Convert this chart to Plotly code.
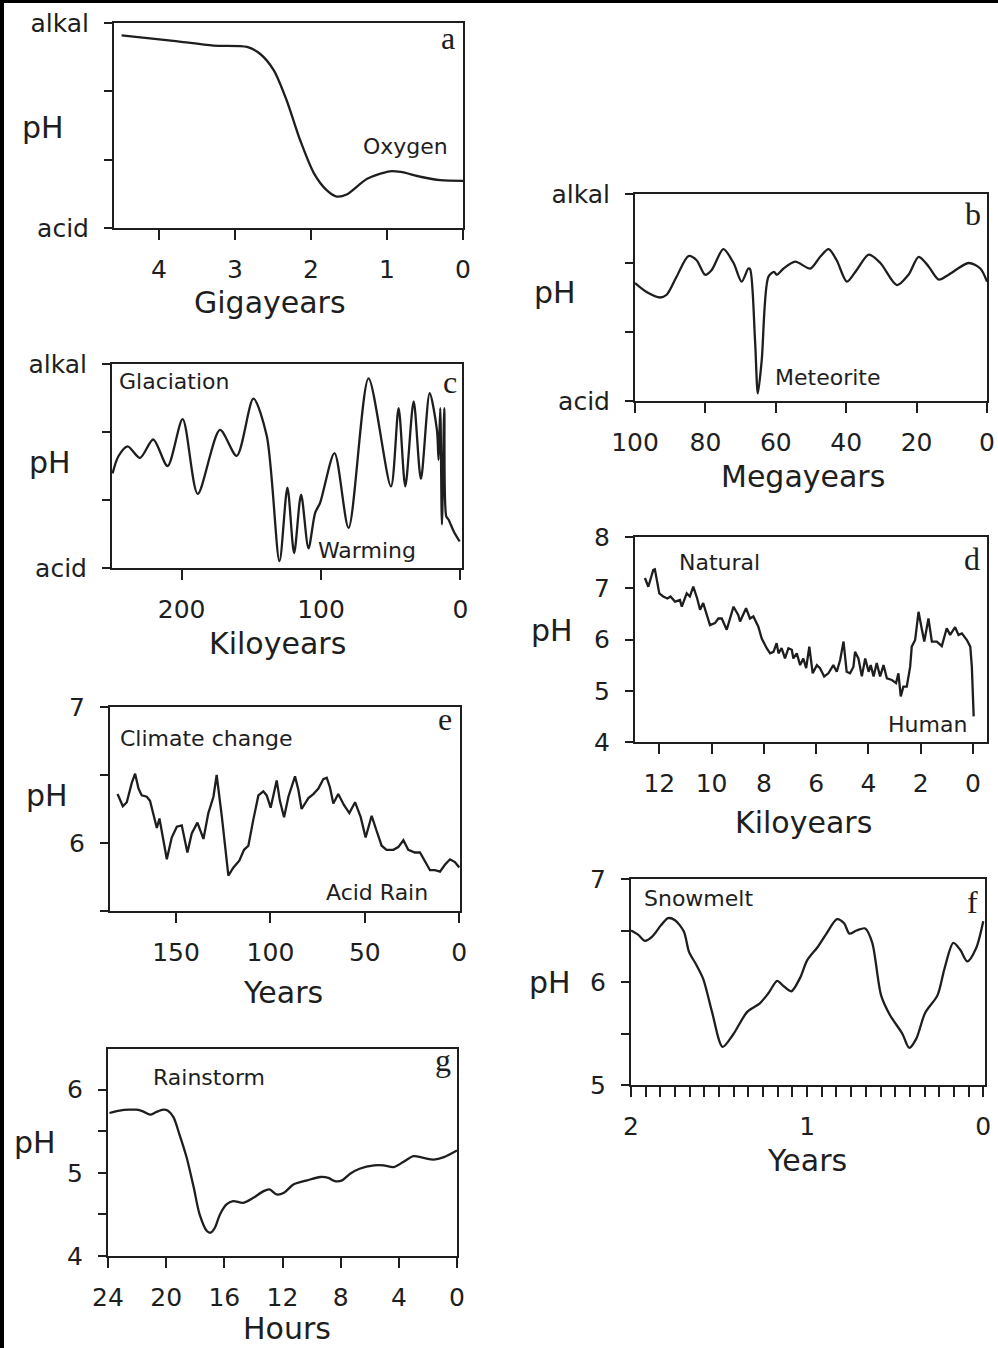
import plotly.graph_objects as go

# ---------------- data ----------------
# a: Gigayears vs relative pH (0 = acid, 3 = alkal)
a_x = [4.49, 3.81, 3.28, 2.84, 2.67, 2.49, 2.32, 2.14, 1.96, 1.79, 1.66, 1.53, 1.26, 0.96, 0.82, 0.56, 0.30, 0.0]
a_y = [2.82, 2.74, 2.67, 2.65, 2.55, 2.31, 1.87, 1.28, 0.80, 0.55, 0.46, 0.49, 0.72, 0.83, 0.82, 0.75, 0.70, 0.69]

# b: Megayears
b_x = [100, 96.7, 92.9, 91.0, 88.2, 84.8, 82.5, 80.1, 78.2, 74.9, 72.0, 69.7, 67.8, 67.3, 65.9, 65.1, 64.0,
       62.1, 60.5, 59.7, 57.8, 54.5, 50.2, 47.4, 45.0, 42.7, 39.8, 37.0, 33.6, 30.3, 25.6, 22.3, 19.4,
       16.6, 13.7, 10.9, 5.2, 1.9, 0.0]
b_y = [1.71, 1.58, 1.50, 1.54, 1.80, 2.10, 2.04, 1.83, 1.90, 2.20, 2.00, 1.73, 1.92, 1.91, 0.88, 0.11, 0.59,
       1.80, 1.87, 1.83, 1.92, 2.02, 1.92, 2.09, 2.20, 2.04, 1.73, 1.90, 2.12, 2.00, 1.68, 1.83, 2.09,
       1.95, 1.76, 1.83, 2.00, 1.92, 1.73]

# c: Kiloyears
c_x = [249.6, 245.5, 238.8, 229.9, 220.4, 210.1, 199.3, 188.5, 172.5, 160.5, 148.5, 138.9, 129.8, 124.1,
       119.3, 114.3, 109.0, 104.2, 100.6, 90.3, 80.2, 65.9, 49.8, 44.3, 39.5, 33.5, 28.3, 22.0, 16.8,
       15.6, 14.4, 13.2, 11.5, 10.1, 8.4, 4.8, 0.5]
c_y = [1.39, 1.64, 1.79, 1.62, 1.89, 1.50, 2.19, 1.09, 2.03, 1.65, 2.49, 1.94, 0.10, 1.18,
       0.22, 1.08, 0.29, 0.81, 0.96, 1.69, 0.59, 2.79, 1.20, 2.35, 1.20, 2.45, 1.31, 2.57, 2.03,
       1.59, 2.35, 0.64, 2.35, 0.76, 0.71, 0.54, 0.39]

# d: Kiloyears vs pH
d_x = [12.55, 12.42, 12.23, 12.17, 12.0, 11.85, 11.69, 11.57, 11.40, 11.21, 11.14, 10.95, 10.83, 10.70,
       10.55, 10.44, 10.32, 10.06, 9.87, 9.74, 9.61, 9.42, 9.16, 8.98, 8.91, 8.68, 8.53, 8.40, 8.21,
       8.08, 7.89, 7.76, 7.63, 7.51, 7.44, 7.32, 7.19, 7.06, 6.93, 6.87, 6.74, 6.61, 6.49, 6.38, 6.26,
       6.13, 5.97, 5.85, 5.69, 5.53, 5.34, 5.21, 5.08, 4.95, 4.83, 4.70, 4.57, 4.51, 4.38, 4.25, 4.12,
       3.99, 3.91, 3.80, 3.68, 3.55, 3.42, 3.29, 3.10, 2.94, 2.85, 2.76, 2.66, 2.53, 2.40, 2.34, 2.21,
       2.08, 1.95, 1.86, 1.70, 1.57, 1.38, 1.19, 1.00, 0.87, 0.68, 0.55, 0.42, 0.23, 0.10, 0.04, -0.03]
d_y = [7.20, 7.03, 7.36, 7.37, 6.90, 6.84, 6.80, 6.84, 6.74, 6.77, 6.64, 6.90, 6.84, 7.03,
       6.80, 6.58, 6.71, 6.28, 6.32, 6.41, 6.41, 6.19, 6.64, 6.48, 6.35, 6.61, 6.41, 6.45, 6.25,
       6.02, 5.83, 5.73, 5.76, 5.93, 5.73, 5.83, 5.63, 5.83, 5.80, 5.63, 5.73, 5.50, 5.63, 5.44, 5.86,
       5.34, 5.50, 5.44, 5.28, 5.34, 5.50, 5.37, 5.60, 5.96, 5.37, 5.34, 5.47, 5.76, 5.63, 5.28, 5.63,
       5.37, 5.50, 5.28, 5.54, 5.28, 5.50, 5.24, 5.21, 5.15, 5.34, 4.89, 5.08, 5.08, 5.47, 5.86, 5.99,
       6.54, 6.19, 5.96, 6.41, 5.96, 5.96, 5.87, 6.22, 6.09, 6.24, 6.09, 6.12, 5.99, 5.86, 5.47, 4.50]

# e: Years vs pH
e_x = [181.0, 178.2, 176.1, 173.5, 171.7, 169.9, 168.2, 165.5, 163.8, 162.0, 160.2, 158.8, 156.7, 154.9,
       152.3, 149.6, 147.0, 144.0, 141.7, 138.7, 135.5, 132.9, 130.2, 128.5, 125.8, 122.3, 119.6, 116.5,
       114.0, 111.7, 109.1, 106.4, 103.8, 102.0, 99.9, 98.5, 96.7, 95.0, 92.8, 90.5, 87.0, 85.2, 83.5,
       79.9, 77.3, 74.6, 72.0, 70.2, 68.5, 66.7, 64.1, 61.1, 58.2, 55.2, 52.2, 49.6, 46.4, 43.8, 41.1,
       38.5, 34.9, 32.3, 29.6, 27.0, 23.5, 20.8, 18.2, 15.5, 12.9, 10.2, 7.6, 4.9, 2.3, 0.0]
e_y = [6.36, 6.27, 6.30, 6.44, 6.51, 6.40, 6.35, 6.34, 6.31, 6.20, 6.11, 6.18, 6.02, 5.88,
       6.04, 6.12, 6.13, 5.93, 6.07, 6.15, 6.03, 6.22, 6.34, 6.50, 6.20, 5.76, 5.82, 5.87,
       5.95, 5.98, 6.17, 6.35, 6.38, 6.35, 6.26, 6.34, 6.46, 6.31, 6.19, 6.34, 6.49, 6.39, 6.25,
       6.33, 6.36, 6.40, 6.47, 6.48, 6.41, 6.29, 6.36, 6.28, 6.22, 6.30, 6.19, 6.04, 6.20, 6.09, 5.98,
       5.95, 5.95, 5.97, 6.02, 5.95, 5.93, 5.93, 5.87, 5.80, 5.80, 5.79, 5.84, 5.88, 5.86, 5.82]

# f: Years vs pH
f_x = [2.0, 1.96, 1.92, 1.88, 1.83, 1.79, 1.75, 1.70, 1.67, 1.63, 1.59, 1.54, 1.48, 1.42, 1.34, 1.27,
       1.22, 1.17, 1.14, 1.09, 1.04, 1.00, 0.94, 0.89, 0.83, 0.79, 0.76, 0.72, 0.67, 0.63, 0.58, 0.53,
       0.46, 0.42, 0.38, 0.33, 0.26, 0.22, 0.17, 0.13, 0.09, 0.04, 0.0]
f_y = [6.50, 6.46, 6.40, 6.44, 6.55, 6.62, 6.60, 6.49, 6.29, 6.17, 6.03, 5.71, 5.37, 5.49, 5.71, 5.79,
       5.89, 6.01, 5.97, 5.91, 6.04, 6.21, 6.34, 6.47, 6.61, 6.57, 6.47, 6.50, 6.52, 6.38, 5.87, 5.68,
       5.50, 5.36, 5.45, 5.70, 5.87, 6.13, 6.38, 6.31, 6.20, 6.33, 6.59]

# g: Hours vs pH
g_x = [23.9, 23.2, 22.5, 22.05, 21.6, 21.1, 20.7, 20.2, 19.9, 19.5, 19.1, 18.6, 18.1, 17.7, 17.2, 16.95,
       16.65, 16.3, 15.85, 15.4, 14.7, 14.0, 13.3, 12.9, 12.4, 11.9, 11.25, 10.3, 9.4, 8.85, 8.4, 7.9,
       7.35, 6.7, 5.7, 5.05, 4.35, 3.7, 3.0, 2.3, 1.6, 0.9, 0.0]
g_y = [5.72, 5.75, 5.76, 5.76, 5.74, 5.70, 5.73, 5.76, 5.75, 5.67, 5.47, 5.19, 4.82, 4.50, 4.30, 4.28,
       4.34, 4.50, 4.62, 4.66, 4.64, 4.70, 4.78, 4.80, 4.74, 4.76, 4.86, 4.91, 4.95, 4.94, 4.90, 4.91,
       4.99, 5.05, 5.09, 5.09, 5.07, 5.13, 5.20, 5.18, 5.16, 5.19, 5.27]

# tick labels
rel_ticks = [0, 1, 2, 3]
rel_labels = ["acid", "", "", "alkal"]
a_xticks = [4, 3, 2, 1, 0]
b_xticks = [100, 80, 60, 40, 20, 0]
c_xticks = [200, 100, 0]
d_xticks = [12, 10, 8, 6, 4, 2, 0]
d_yticks = [4, 5, 6, 7, 8]
e_xticks = [150, 100, 50, 0]
e_yticks = [5.5, 6, 6.5, 7]
e_ylabels = ["", "6", "", "7"]
f_xticks = [i / 12 for i in range(25)]
f_xlabels = ["0" if i == 0 else ("1" if i == 12 else ("2" if i == 24 else "")) for i in range(25)]
f_yticks = [5, 5.5, 6, 6.5, 7]
f_ylabels = ["5", "", "6", "", "7"]
g_xticks = [24, 20, 16, 12, 8, 4, 0]
g_yticks = [4, 4.5, 5, 5.5, 6]
g_ylabels = ["4", "", "5", "", "6"]

# ---------------- layout helpers ----------------
W, H = 998, 1348
INK = "#1e1e1e"
SANS = "DejaVu Sans"
SERIF = "Liberation Serif"


def px(x):
    return x / W


def py(y):
    return 1 - y / H


panels = [
    dict(x=a_x, y=a_y, box=(114, 23, 463, 228), xr=[4.59, 0], yr=[0, 3], xt=a_xticks, xl=None,
         yt=rel_ticks, yl=rel_labels, shape="spline",
         letter=("a", 448, 38), xtitle=("Gigayears", 270, 302), ph=(43, 128),
         notes=[("Oxygen", 405, 147)]),
    dict(x=b_x, y=b_y, box=(635, 194, 987, 401), xr=[100, 0], yr=[0, 3], xt=b_xticks, xl=None,
         yt=rel_ticks, yl=rel_labels, shape="spline",
         letter=("b", 973, 214), xtitle=("Megayears", 803, 477), ph=(555, 292),
         notes=[("Meteorite", 827, 377)]),
    dict(x=c_x, y=c_y, box=(112, 364, 462, 568), xr=[250, -1.2], yr=[0, 3], xt=c_xticks, xl=None,
         yt=rel_ticks, yl=rel_labels, shape="spline",
         letter=("c", 450, 382), xtitle=("Kiloyears", 277, 643), ph=(50, 462),
         notes=[("Glaciation", 174, 382), ("Warming", 367, 550)]),
    dict(x=d_x, y=d_y, box=(635, 537, 987, 742), xr=[12.93, -0.54], yr=[4, 8], xt=d_xticks, xl=None,
         yt=d_yticks, yl=None, shape="linear",
         letter=("d", 972, 559), xtitle=("Kiloyears", 803, 822), ph=(552, 630),
         notes=[("Natural", 719, 562), ("Human", 927, 725)]),
    dict(x=e_x, y=e_y, box=(110, 707, 460, 911), xr=[185, -0.4], yr=[5.5, 7], xt=e_xticks, xl=None,
         yt=e_yticks, yl=e_ylabels, shape="linear",
         letter=("e", 445, 719), xtitle=("Years", 283, 992), ph=(47, 795),
         notes=[("Climate change", 206, 738), ("Acid Rain", 377, 892)]),
    dict(x=f_x, y=f_y, box=(631, 879, 985, 1085), xr=[2, -0.01], yr=[5, 7], xt=f_xticks, xl=f_xlabels,
         yt=f_yticks, yl=f_ylabels, shape="spline",
         letter=("f", 972, 902), xtitle=("Years", 807, 1160), ph=(550, 983),
         notes=[("Snowmelt", 698, 898)]),
    dict(x=g_x, y=g_y, box=(108, 1049, 457, 1256), xr=[24, 0], yr=[4, 6.49], xt=g_xticks, xl=None,
         yt=g_yticks, yl=g_ylabels, shape="spline",
         letter=("g", 443, 1060), xtitle=("Hours", 287, None), ph=(35, 1142),
         notes=[("Rainstorm", 209, 1077)]),
]

fig = go.Figure()
annotations = []
layout = dict(
    width=W, height=H,
    margin=dict(l=0, r=0, t=0, b=0, pad=0, autoexpand=False),
    paper_bgcolor="white", plot_bgcolor="white",
    showlegend=False,
    font=dict(family=SANS, color=INK),
)

for i, p in enumerate(panels, start=1):
    sfx = "" if i == 1 else str(i)
    x0, y0, x1, y1 = p["box"]
    fig.add_trace(go.Scatter(
        x=p["x"], y=p["y"], mode="lines",
        line=dict(color=INK, width=2.3, shape=p["shape"], smoothing=0.8 if p["shape"] == "spline" else None),
        xaxis="x" + sfx, yaxis="y" + sfx, hoverinfo="skip",
    ))
    common = dict(
        showline=True, linecolor=INK, linewidth=2, mirror=True,
        ticks="outside", tickcolor=INK, tickwidth=2,
        showgrid=False, zeroline=False, fixedrange=True, automargin=False,
        tickfont=dict(family=SANS, size=25, color=INK),
    )
    xa = dict(common, domain=[px(x0), px(x1)], anchor="y" + sfx, range=p["xr"],
              tickmode="array", tickvals=p["xt"], ticklen=10, ticklabelstandoff=8)
    if p["xl"] is not None:
        xa["ticktext"] = p["xl"]
    else:
        xa["ticktext"] = [str(v) for v in p["xt"]]
    ya = dict(common, domain=[py(y1), py(y0)], anchor="x" + sfx, range=p["yr"],
              tickmode="array", tickvals=p["yt"], ticklen=8, ticklabelstandoff=10)
    if p["yl"] is not None:
        ya["ticktext"] = p["yl"]
    else:
        ya["ticktext"] = [str(v) for v in p["yt"]]
    layout["xaxis" + sfx] = xa
    layout["yaxis" + sfx] = ya

    t, lx, ly = p["letter"]
    annotations.append(dict(text=t, x=px(lx), y=py(ly), xref="paper", yref="paper",
                            showarrow=False, xanchor="center", yanchor="middle",
                            font=dict(family=SERIF, size=32, color=INK)))
    t, lx, ly = p["xtitle"]
    if ly is None:
        # title sitting on the bottom edge of the page
        annotations.append(dict(text=t, x=px(lx), y=0, xref="paper", yref="paper",
                                showarrow=False, xanchor="center", yanchor="bottom",
                                font=dict(family=SANS, size=30, color=INK)))
    else:
        annotations.append(dict(text=t, x=px(lx), y=py(ly), xref="paper", yref="paper",
                                showarrow=False, xanchor="center", yanchor="middle",
                                font=dict(family=SANS, size=30, color=INK)))
    lx, ly = p["ph"]
    annotations.append(dict(text="pH", x=px(lx), y=py(ly), xref="paper", yref="paper",
                            showarrow=False, xanchor="center", yanchor="middle",
                            font=dict(family=SANS, size=30, color=INK)))
    for t, lx, ly in p["notes"]:
        annotations.append(dict(text=t, x=px(lx), y=py(ly), xref="paper", yref="paper",
                                showarrow=False, xanchor="center", yanchor="middle",
                                font=dict(family=SANS, size=22, color=INK)))

layout["annotations"] = annotations
layout["shapes"] = [
    dict(type="line", xref="paper", yref="paper", x0=px(2), x1=px(2), y0=0, y1=1,
         line=dict(color="black", width=4)),
    dict(type="line", xref="paper", yref="paper", x0=0, x1=1, y0=py(1.5), y1=py(1.5),
         line=dict(color="black", width=3)),
]
fig.update_layout(**layout)
fig.write_html("out.html")
